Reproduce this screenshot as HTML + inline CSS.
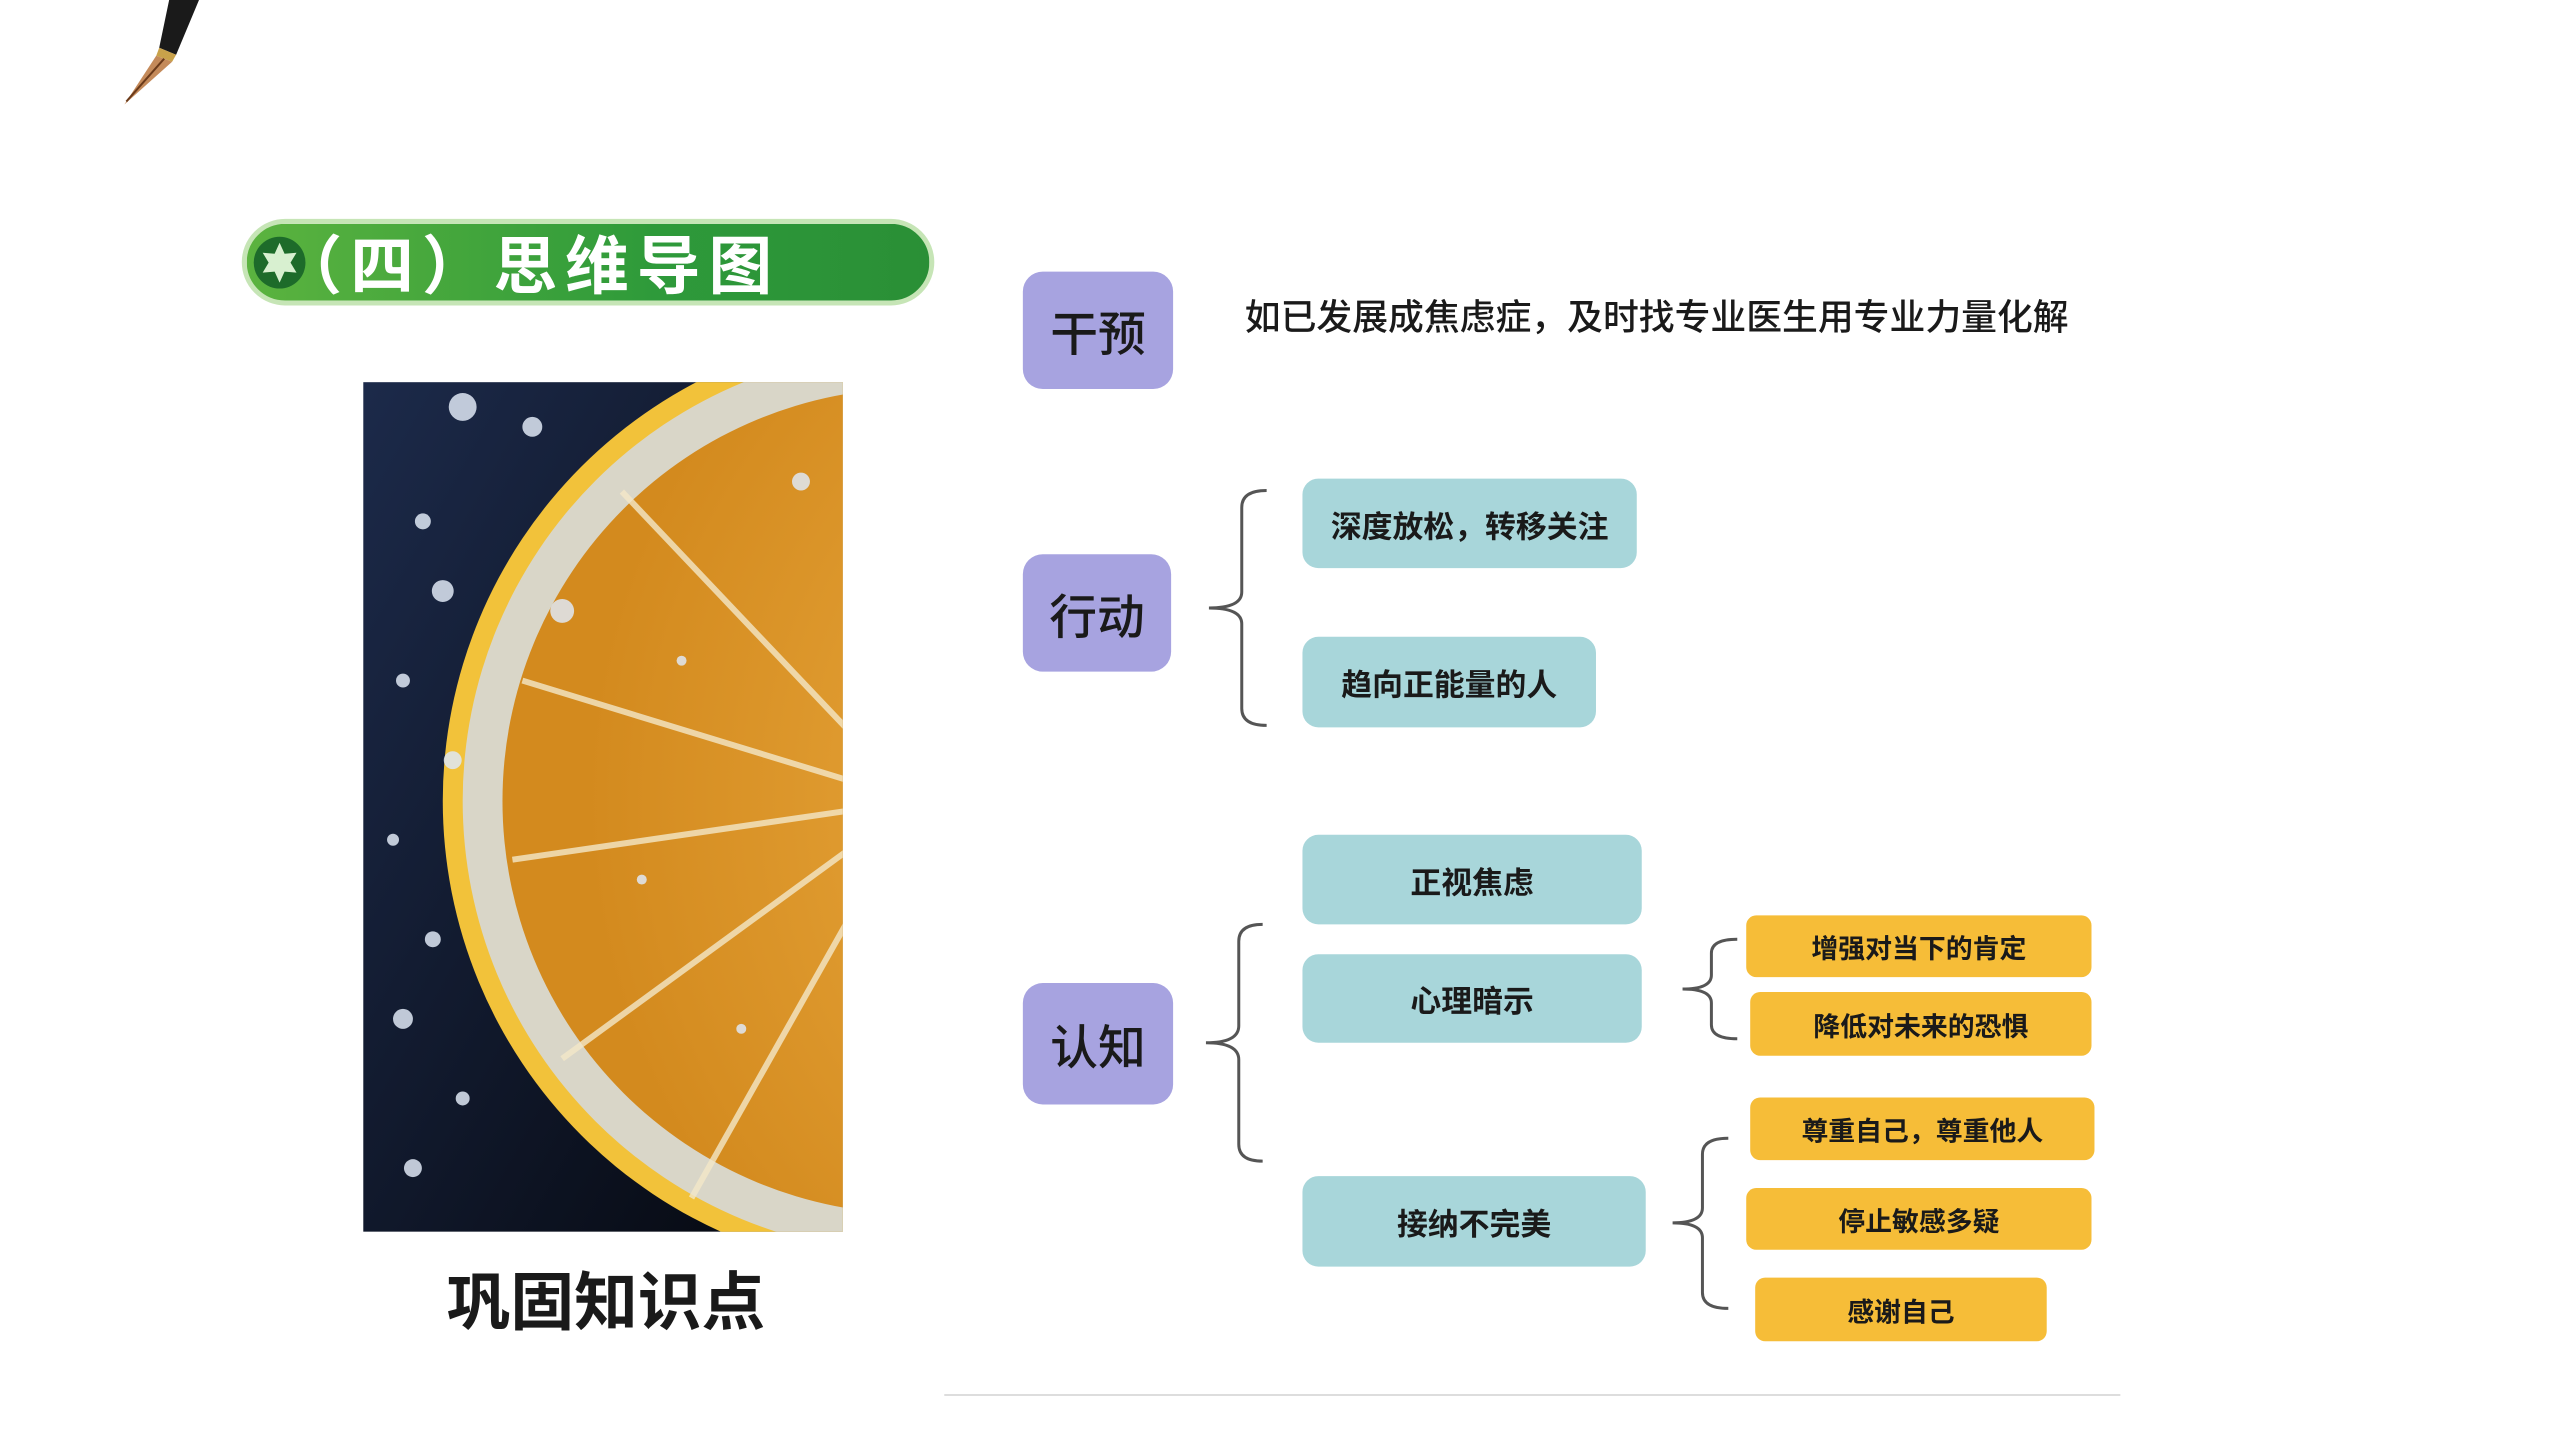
<!DOCTYPE html>
<html><head><meta charset="utf-8"><style>
*{margin:0;padding:0;box-sizing:border-box}
body{width:2560px;height:1440px;background:#fff;position:relative;overflow:hidden;font-family:"Liberation Sans","Noto Sans CJK SC",sans-serif;color:#1a1a1a}
#w{position:absolute;left:0;top:0;width:2560px;height:1440px;transform:scale(0.995);transform-origin:0 0}
.b{position:absolute;display:flex;align-items:center;justify-content:center;font-weight:bold;border-radius:16px}
.p{background:#a7a3e0;font-size:48px;font-weight:500;border-radius:20px}
.t{background:#a8d6da;font-size:31px}
.o{background:#f6bd38;font-size:27px;border-radius:10px}
</style></head><body><div id="w">
<svg style="position:absolute;left:115px;top:0" width="95" height="110" viewBox="0 0 95 110">
<polygon points="55,0 85,0 62,55 45,48" fill="#1a1a1a"/>
<polygon points="45,48 62,55 58,62 42,56" fill="#c9a24a"/>
<polygon points="42,56 58,62 10,105" fill="#c48a5a"/>
<line x1="50" y1="59" x2="12" y2="102" stroke="#6a3a1a" stroke-width="2"/>
</svg>
<div style="position:absolute;left:243px;top:220px;width:696px;height:87px;border-radius:44px;background:linear-gradient(90deg,#5bb33f,#2e9a3a 60%,#2a8f36);border:5px solid #c6e5b6"></div>
<svg style="position:absolute;left:252px;top:235px" width="58" height="58" viewBox="0 0 58 58">
<circle cx="29" cy="29" r="26" fill="#1d6b2a"/>
<polygon points="29,9 34,20 46,19 40,29 46,39 34,38 29,49 24,38 12,39 18,29 12,19 24,20" fill="#d8f0d0"/>
</svg>
<div style="position:absolute;left:280px;top:222px;height:82px;line-height:82px;font-size:64px;font-weight:bold;color:#fff;font-family:'Noto Sans CJK SC',sans-serif;letter-spacing:8px">（四）思维导图</div>
<svg style="position:absolute;left:365px;top:384px" width="482" height="854" viewBox="0 0 482 854">
<defs>
<clipPath id="c"><rect width="482" height="854"/></clipPath>
<radialGradient id="fl" cx="0.9" cy="0.5" r="0.8"><stop offset="0" stop-color="#f0b248"/><stop offset="1" stop-color="#d38a1e"/></radialGradient>
<linearGradient id="bg" x1="0" y1="0" x2="1" y2="1"><stop offset="0" stop-color="#1c2a4a"/><stop offset="1" stop-color="#05070d"/></linearGradient>
</defs>
<g clip-path="url(#c)">
<rect width="482" height="854" fill="url(#bg)"/>
<circle cx="555" cy="421" r="475" fill="#f2c23a"/>
<circle cx="555" cy="421" r="455" fill="#d9d6c8"/>
<circle cx="555" cy="421" r="415" fill="url(#fl)"/>
<g stroke="#f4e8c8" stroke-width="6" opacity="0.8">
<line x1="555" y1="421" x2="260" y2="110"/><line x1="555" y1="421" x2="160" y2="300"/>
<line x1="555" y1="421" x2="150" y2="480"/><line x1="555" y1="421" x2="200" y2="680"/>
<line x1="555" y1="421" x2="330" y2="820"/>
</g>
<g fill="#dfe8f5" opacity="0.85">
<circle cx="100" cy="25" r="14"/><circle cx="170" cy="45" r="10"/><circle cx="60" cy="140" r="8"/><circle cx="80" cy="210" r="11"/><circle cx="40" cy="300" r="7"/><circle cx="90" cy="380" r="9"/><circle cx="30" cy="460" r="6"/><circle cx="70" cy="560" r="8"/><circle cx="40" cy="640" r="10"/><circle cx="100" cy="720" r="7"/><circle cx="50" cy="790" r="9"/><circle cx="200" cy="230" r="12"/><circle cx="320" cy="280" r="5"/><circle cx="440" cy="100" r="9"/><circle cx="280" cy="500" r="5"/><circle cx="380" cy="650" r="5"/>
</g>
</g>
</svg>
<div style="position:absolute;left:409px;top:1258px;width:400px;text-align:center;font-size:64px;font-weight:bold;font-family:'Noto Sans CJK SC',sans-serif">巩固知识点</div>
<div class="b p" style="left:1028px;top:273px;width:151px;height:118px">干预</div>
<div style="position:absolute;left:1251px;top:290px;font-size:36px;font-weight:500;white-space:nowrap">如已发展成焦虑症，及时找专业医生用专业力量化解</div>
<div class="b p" style="left:1028px;top:557px;width:149px;height:118px">行动</div>
<div class="b t" style="left:1309px;top:481px;width:336px;height:90px">深度放松，转移关注</div>
<div class="b t" style="left:1309px;top:640px;width:295px;height:91px">趋向正能量的人</div>
<div class="b p" style="left:1028px;top:988px;width:151px;height:122px">认知</div>
<div class="b t" style="left:1309px;top:839px;width:341px;height:90px">正视焦虑</div>
<div class="b t" style="left:1309px;top:959px;width:341px;height:89px">心理暗示</div>
<div class="b t" style="left:1309px;top:1182px;width:345px;height:91px">接纳不完美</div>
<div class="b o" style="left:1755px;top:920px;width:347px;height:62px">增强对当下的肯定</div>
<div class="b o" style="left:1759px;top:997px;width:343px;height:64px">降低对未来的恐惧</div>
<div class="b o" style="left:1759px;top:1103px;width:346px;height:63px">尊重自己，尊重他人</div>
<div class="b o" style="left:1755px;top:1194px;width:347px;height:62px">停止敏感多疑</div>
<div class="b o" style="left:1764px;top:1284px;width:293px;height:64px">感谢自己</div>
<svg style="position:absolute;left:0;top:0" width="2560" height="1440" fill="none" stroke="#555" stroke-width="3">
<path d="M1273,493 Q1248,493 1248,510 L1248,595 Q1248,611 1215,611 Q1248,611 1248,627 L1248,712 Q1248,729 1273,729"/>
<path d="M1269,929 Q1245,929 1245,946 L1245,1031 Q1245,1048 1212,1048 Q1245,1048 1245,1065 L1245,1150 Q1245,1167 1269,1167"/>
<path d="M1746,944 Q1720,944 1720,958 L1720,980 Q1720,994 1691,994 Q1720,994 1720,1008 L1720,1030 Q1720,1044 1746,1044"/>
<path d="M1737,1144 Q1711,1144 1711,1160 L1711,1214 Q1711,1229 1681,1229 Q1711,1229 1711,1244 L1711,1299 Q1711,1315 1737,1315"/>
<line x1="949" y1="1402" x2="2131" y2="1402" stroke="#ddd" stroke-width="2"/>
</svg>
</div></body></html>
